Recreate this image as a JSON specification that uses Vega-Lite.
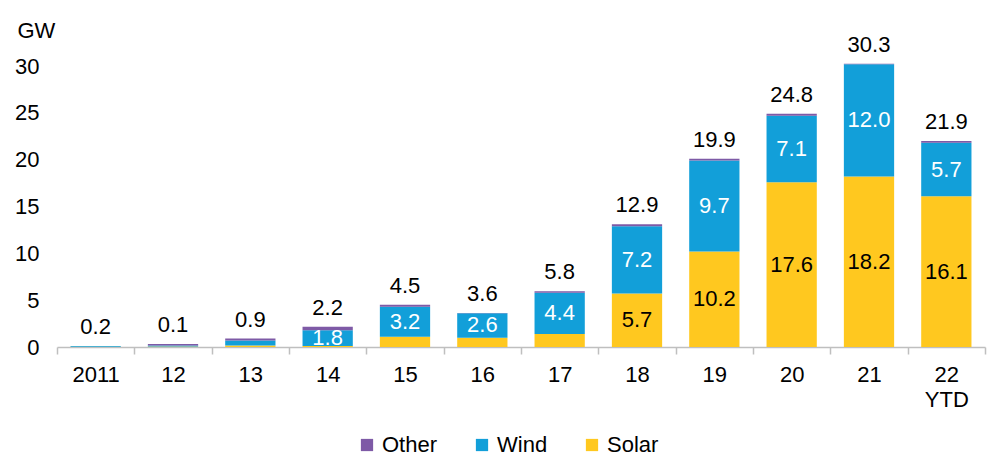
{
  "$schema": "https://vega.github.io/schema/vega-lite/v6.json",
  "width": 928,
  "height": 281,
  "autosize": "none",
  "padding": {"left": 57, "top": 66, "right": 14, "bottom": 127},
  "background": "white",
  "config": {
    "view": {"stroke": null},
    "font": "Liberation Sans",
    "text": {"font": "Liberation Sans"}
  },
  "data": {
    "values": [
      {"year": "2011", "type": "Solar", "value": 0.04, "label": "", "total": 0.2},
      {"year": "2011", "type": "Wind", "value": 0.08, "label": "", "total": 0.2},
      {"year": "2011", "type": "Other", "value": 0.0, "label": "", "total": 0.2},
      {"year": "12", "type": "Solar", "value": 0.05, "label": "", "total": 0.1},
      {"year": "12", "type": "Wind", "value": 0.12, "label": "", "total": 0.1},
      {"year": "12", "type": "Other", "value": 0.15, "label": "", "total": 0.1},
      {"year": "13", "type": "Solar", "value": 0.15, "label": "", "total": 0.9},
      {"year": "13", "type": "Wind", "value": 0.55, "label": "", "total": 0.9},
      {"year": "13", "type": "Other", "value": 0.2, "label": "", "total": 0.9},
      {"year": "14", "type": "Solar", "value": 0.1, "label": "", "total": 2.2},
      {"year": "14", "type": "Wind", "value": 1.7, "label": "1.8", "total": 2.2},
      {"year": "14", "type": "Other", "value": 0.35, "label": "", "total": 2.2},
      {"year": "15", "type": "Solar", "value": 1.1, "label": "", "total": 4.5},
      {"year": "15", "type": "Wind", "value": 3.2, "label": "3.2", "total": 4.5},
      {"year": "15", "type": "Other", "value": 0.2, "label": "", "total": 4.5},
      {"year": "16", "type": "Solar", "value": 1.0, "label": "", "total": 3.6},
      {"year": "16", "type": "Wind", "value": 2.6, "label": "2.6", "total": 3.6},
      {"year": "16", "type": "Other", "value": 0.02, "label": "", "total": 3.6},
      {"year": "17", "type": "Solar", "value": 1.4, "label": "", "total": 5.8},
      {"year": "17", "type": "Wind", "value": 4.4, "label": "4.4", "total": 5.8},
      {"year": "17", "type": "Other", "value": 0.15, "label": "", "total": 5.8},
      {"year": "18", "type": "Solar", "value": 5.7, "label": "5.7", "total": 12.9},
      {"year": "18", "type": "Wind", "value": 7.2, "label": "7.2", "total": 12.9},
      {"year": "18", "type": "Other", "value": 0.2, "label": "", "total": 12.9},
      {"year": "19", "type": "Solar", "value": 10.2, "label": "10.2", "total": 19.9},
      {"year": "19", "type": "Wind", "value": 9.7, "label": "9.7", "total": 19.9},
      {"year": "19", "type": "Other", "value": 0.2, "label": "", "total": 19.9},
      {"year": "20", "type": "Solar", "value": 17.6, "label": "17.6", "total": 24.8},
      {"year": "20", "type": "Wind", "value": 7.1, "label": "7.1", "total": 24.8},
      {"year": "20", "type": "Other", "value": 0.2, "label": "", "total": 24.8},
      {"year": "21", "type": "Solar", "value": 18.2, "label": "18.2", "total": 30.3},
      {"year": "21", "type": "Wind", "value": 12.0, "label": "12.0", "total": 30.3},
      {"year": "21", "type": "Other", "value": 0.05, "label": "", "total": 30.3},
      {"year": "22 YTD", "type": "Solar", "value": 16.1, "label": "16.1", "total": 21.9},
      {"year": "22 YTD", "type": "Wind", "value": 5.7, "label": "5.7", "total": 21.9},
      {"year": "22 YTD", "type": "Other", "value": 0.2, "label": "", "total": 21.9}
    ]
  },
  "transform": [
    {"calculate": "indexof(['Solar','Wind','Other'], datum.type)", "as": "ord"},
    {"stack": "value", "groupby": ["year"], "sort": [{"field": "ord", "order": "ascending"}], "as": ["y0", "y1"]},
    {"calculate": "(datum.y0 + datum.y1) / 2", "as": "mid"}
  ],
  "encoding": {
    "x": {
      "field": "year",
      "type": "nominal",
      "sort": null,
      "scale": {"paddingInner": 0, "paddingOuter": 0},
      "axis": {
        "title": null,
        "labelAngle": 0,
        "labelExpr": "split(datum.label, ' ')",
        "labelFontSize": 22,
        "labelColor": "#000000",
        "labelLineHeight": 25,
        "labelPadding": 10,
        "labelBaseline": "top",
        "tickSize": 7,
        "tickColor": "#BFBFBF",
        "tickWidth": 1.5,
        "tickBand": "extent",
        "domainColor": "#BFBFBF",
        "domainWidth": 1.5
      }
    }
  },
  "layer": [
    {
      "mark": {"type": "bar", "width": {"band": 0.65}},
      "encoding": {
        "y": {
          "field": "y0",
          "type": "quantitative",
          "scale": {"domain": [0, 30], "nice": false},
          "axis": {
            "title": "GW",
            "titleAngle": 0,
            "titleAlign": "left",
            "titleBaseline": "alphabetic",
            "titleX": -40,
            "titleY": -29,
            "titleFontSize": 22,
            "titleFontWeight": "normal",
            "titleColor": "#000000",
            "values": [0, 5, 10, 15, 20, 25, 30],
            "labelFontSize": 22,
            "labelColor": "#000000",
            "labelPadding": 18,
            "ticks": false,
            "domain": false,
            "grid": false
          }
        },
        "y2": {"field": "y1"},
        "color": {
          "field": "type",
          "type": "nominal",
          "scale": {"domain": ["Other", "Wind", "Solar"], "range": ["#7E5AA6", "#129FD9", "#FFC81F"]},
          "legend": {
            "title": null,
            "orient": "none",
            "direction": "horizontal",
            "legendX": 299,
            "legendY": 368,
            "symbolType": "square",
            "symbolSize": 150,
            "symbolStrokeWidth": 0,
            "labelFontSize": 22,
            "labelColor": "#000000",
            "labelOffset": 4,
            "columnPadding": 33
          }
        }
      }
    },
    {
      "transform": [{"filter": "datum.label != ''"}],
      "mark": {"type": "text", "baseline": "middle", "fontSize": 22},
      "encoding": {
        "y": {"field": "mid", "type": "quantitative"},
        "text": {"field": "label"},
        "color": {
          "condition": {"test": "datum.type == 'Wind'", "value": "#FFFFFF"},
          "value": "#000000"
        }
      }
    },
    {
      "mark": {"type": "text", "baseline": "alphabetic", "fontSize": 22, "dy": -12, "color": "#000000"},
      "encoding": {
        "y": {"aggregate": "max", "field": "y1", "type": "quantitative"},
        "text": {"aggregate": "max", "field": "total", "type": "quantitative", "format": ".1f"}
      }
    }
  ]
}
